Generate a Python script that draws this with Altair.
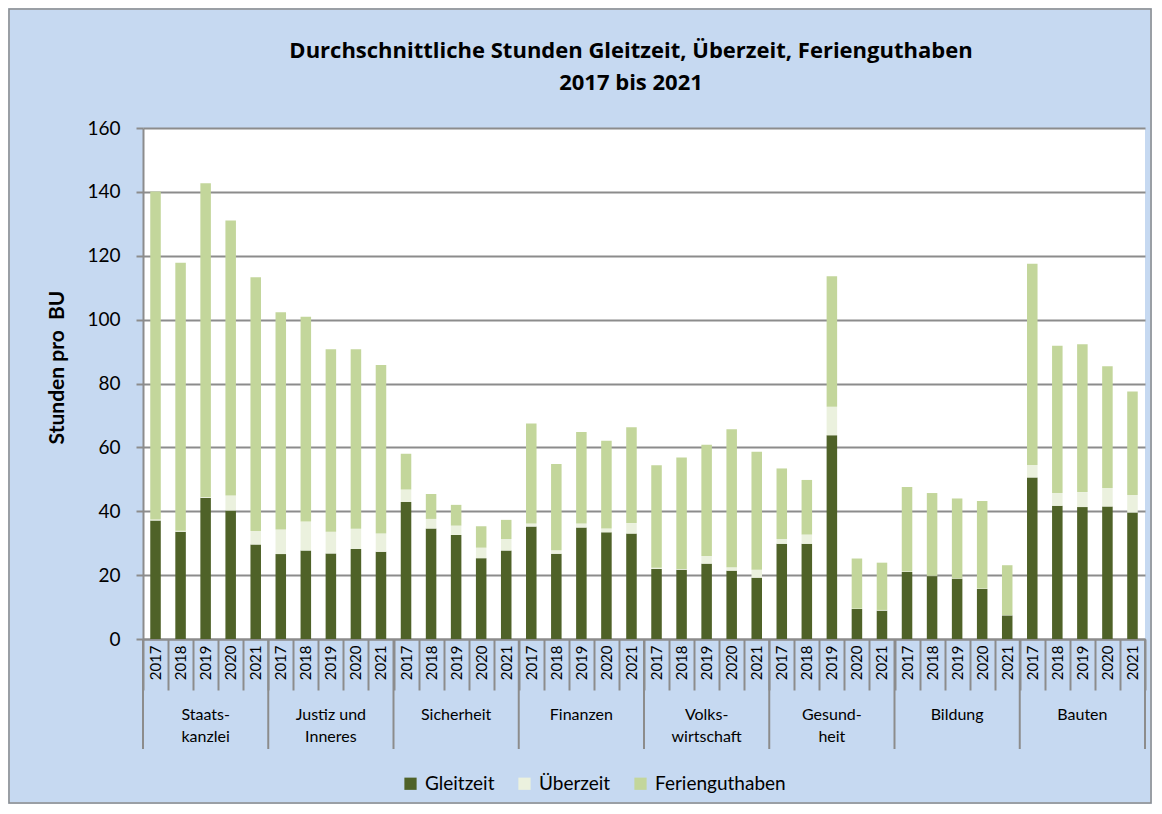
import altair as alt
import pandas as pd

title_lines = ["Durchschnittliche Stunden Gleitzeit, Überzeit, Ferienguthaben", "2017 bis 2021"]
departments = ["Staats-\nkanzlei", "Justiz und\nInneres", "Sicherheit", "Finanzen",
               "Volks-\nwirtschaft", "Gesund-\nheit", "Bildung", "Bauten"]
years = ["2017", "2018", "2019", "2020", "2021"]
series = ["Gleitzeit", "Überzeit", "Ferienguthaben"]
colors = ["#4F6228", "#EBF1DE", "#C3D69B"]

gleitzeit = [37.1, 33.6, 44.2, 40.2, 29.6,
             26.6, 27.7, 26.8, 28.2, 27.3,
             42.9, 34.6, 32.6, 25.3, 27.7,
             35.2, 26.7, 34.9, 33.4, 33.0,
             21.9, 21.7, 23.6, 21.4, 19.2,
             29.8, 29.8, 63.8, 9.4, 8.9,
             21.0, 19.7, 18.9, 15.7, 7.4,
             50.6, 41.7, 41.3, 41.5, 39.6]
ueberzeit = [0.3, 0.3, 0.3, 4.7, 4.2,
             7.7, 9.1, 6.8, 6.3, 5.7,
             3.9, 3.0, 2.9, 3.3, 3.6,
             1.0, 1.1, 1.3, 1.2, 3.3,
             0.4, 0.2, 2.4, 1.1, 2.5,
             1.5, 2.9, 8.9, 0.1, 0.2,
             0.1, 0.1, 0.1, 0.1, 0.1,
             3.9, 4.0, 4.7, 5.8, 5.5]
ferienguthaben = [102.7, 83.9, 98.2, 86.1, 79.5,
                  68.0, 64.1, 57.1, 56.2, 52.8,
                  11.2, 7.8, 6.5, 6.7, 6.0,
                  31.3, 27.0, 28.6, 27.5, 30.0,
                  32.1, 34.9, 34.8, 43.2, 36.9,
                  22.1, 17.1, 40.9, 15.7, 14.8,
                  26.5, 25.9, 25.0, 27.4, 15.6,
                  63.0, 46.1, 46.3, 38.1, 32.4]

W, H = 1002, 511
FONT = "Lato"
TFONT = "Open Sans"
GRID = "#8C8C8C"

keys = [f"D{i}-{y}" for i in range(len(departments)) for y in years]

rows = []
for s_i, (s_name, vals) in enumerate(zip(series, [gleitzeit, ueberzeit, ferienguthaben])):
    for k, v in zip(keys, vals):
        rows.append({"key": k, "series": s_name, "value": v, "order": s_i})
df = pd.DataFrame(rows)

xscale = alt.Scale(domain=keys, paddingInner=0, paddingOuter=0)

bars = alt.Chart(df).mark_bar(width={"band": 0.42}).encode(
    x=alt.X("key:N", sort=keys, scale=xscale,
            axis=alt.Axis(title=None, labelAngle=-90, labelExpr="slice(datum.label, -4)",
                          tickBand="extent", tickSize=51, tickWidth=2, tickColor=GRID,
                          domainColor=GRID, domainWidth=2, labelFontSize=15,
                          labelFont=FONT, labelColor="#000000", labelPadding=-45,
                          labelOverlap=False, grid=False)),
    y=alt.Y("value:Q", stack="zero",
            scale=alt.Scale(domain=[0, 160], nice=False),
            axis=alt.Axis(title="Stunden pro\u00a0 BU", values=list(range(0, 161, 20)),
                          grid=True, gridColor=GRID, gridWidth=2,
                          tickColor=GRID, tickSize=7, tickWidth=2,
                          domainColor=GRID, domainWidth=2,
                          labelFontSize=19, labelFont=FONT, labelColor="#000000",
                          labelPadding=16,
                          titleFontSize=21, titleFont=FONT, titleFontWeight="bold",
                          titleColor="#000000", titleX=-86, titleY=239,
                          titleAngle=-90, titleAlign="center", titleBaseline="middle")),
    color=alt.Color("series:N", sort=series,
                    scale=alt.Scale(domain=series, range=colors),
                    legend=alt.Legend(title=None, orient="none", direction="horizontal",
                                      legendX=258, legendY=646, symbolType="square",
                                      symbolSize=150, symbolStrokeWidth=0,
                                      labelFontSize=19, labelFont=FONT,
                                      labelColor="#000000", columnPadding=20,
                                      labelOffset=5, symbolOffset=0)),
    order=alt.Order("order:Q"),
)

dept_df = pd.DataFrame({"key": [f"D{i}-2019" for i in range(len(departments))],
                        "label": departments})
dept_text = alt.Chart(dept_df).mark_text(
    lineBreak="\n", baseline="top", align="center", fontSize=16, font=FONT,
    color="#000000", lineHeight=22
).encode(
    x=alt.X("key:N", sort=keys, scale=xscale),
    y=alt.value(H + 68),
    text="label:N",
)

start_df = pd.DataFrame({"key": [f"D{i}-2017" for i in range(len(departments))]})
group_lines = alt.Chart(start_df).mark_rule(color=GRID, strokeWidth=2).encode(
    x=alt.X("key:N", sort=keys, scale=xscale, bandPosition=0),
    y=alt.value(H), y2=alt.value(H + 110),
)
end_df = pd.DataFrame({"key": [keys[-1]]})
end_line = alt.Chart(end_df).mark_rule(color=GRID, strokeWidth=2).encode(
    x=alt.X("key:N", sort=keys, scale=xscale, bandPosition=1),
    y=alt.value(H), y2=alt.value(H + 110),
)


def title_layer(text, ypos):
    return alt.Chart(pd.DataFrame({"line": [text]})).mark_text(
        fontSize=22, fontWeight="bold", font=TFONT, color="#000000",
        align="center", baseline="middle"
    ).encode(
        x=alt.value(W / 2 - 13),
        y=alt.value(ypos),
        text="line:N",
    )


title1 = title_layer(title_lines[0], -77)
title2 = title_layer(title_lines[1], -45)

border = alt.Chart(pd.DataFrame({"a": [0]})).mark_rect(
    filled=False, stroke="#8C8C8C", strokeWidth=1.5
).encode(
    x=alt.value(-134), x2=alt.value(W + 6),
    y=alt.value(-119), y2=alt.value(H + 164),
)

chart = alt.layer(bars, dept_text, group_lines, end_line, title1, title2, border).properties(
    width=W, height=H,
    padding={"left": 135, "top": 120, "right": 7, "bottom": 165},
    autosize=alt.AutoSizeParams(type="none"),
).configure(
    background="#C6D9F1",
).configure_view(
    fill="#FFFFFF", stroke=None,
)

chart.save("out.html", embed_options={"renderer": "svg", "actions": False})
